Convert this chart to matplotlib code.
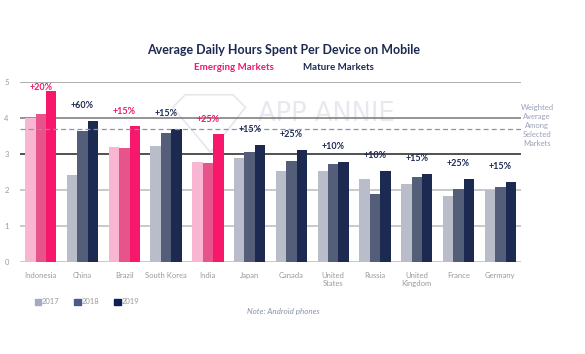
import numpy as np
import matplotlib.pyplot as plt
from matplotlib.patches import Polygon

plt.rcParams['font.family'] = ['Lato', 'DejaVu Sans']

countries = ['Indonesia', 'China', 'Brazil', 'South Korea', 'India', 'Japan',
             'Canada', 'United\nStates', 'Russia', 'United\nKingdom',
             'France', 'Germany']
emerging = [True, False, True, False, True, False,
            False, False, False, False, False, False]
hours_2017 = [4.00, 2.43, 3.21, 3.23, 2.78, 2.89, 2.52, 2.53, 2.30, 2.17, 1.83, 2.00]
hours_2018 = [4.10, 3.65, 3.18, 3.59, 2.76, 3.05, 2.82, 2.72, 1.89, 2.37, 2.02, 2.08]
hours_2019 = [4.75, 3.92, 3.77, 3.70, 3.55, 3.25, 3.11, 2.79, 2.53, 2.45, 2.32, 2.23]
growth = ['+20%', '+60%', '+15%', '+15%', '+25%', '+15%',
          '+25%', '+10%', '+10%', '+15%', '+25%', '+15%']
weighted_avg = 3.7
years = ['2017', '2018', '2019']

pink = ['#F9B6D2', '#E7538B', '#F7186C']
navy = ['#B9BDC9', '#545E78', '#1C2A52']
legend_colors = ['#A3AAC2', '#4A5A8A', '#0E1F55']
PINK_TXT = '#F0186C'
NAVY_TXT = '#1C2A52'

fig = plt.figure(figsize=(5.85, 3.54), dpi=100)
ax = fig.add_axes([0.034, 0.260, 0.857, 0.508])

x = np.arange(len(countries))
w = 0.25
for i, series in enumerate([hours_2017, hours_2018, hours_2019]):
    cols = [pink[i] if e else navy[i] for e in emerging]
    ax.bar(x + (i - 1) * w, series, width=w, color=cols, zorder=3)

# gridlines
for v, c in [(0, '#BBBBBB'), (1, '#BBBBBB'), (2, '#BBBBBB'), (5, '#999999'),
             (4, '#777777'), (3, '#222222')]:
    ax.axhline(v, color=c, lw=1.1, zorder=2)
ax.axhline(weighted_avg, color='#8A93AB', lw=0.9, ls=(0, (4, 2.5)), zorder=4)

for xi, v, g, e in zip(x, hours_2019, growth, emerging):
    ax.text(xi, min(v + 0.42, 4.86), g, ha='center', va='center', fontsize=6.5,
            fontweight='bold', color=PINK_TXT if e else NAVY_TXT, zorder=5)

ax.set_xlim(-0.5, len(countries) - 0.5)
ax.set_ylim(0, 5)
ax.set_yticks(range(6))
ax.set_xticks(x)
ax.set_xticklabels(countries, fontsize=5.5, color='#9A9A9A', linespacing=1.3)
ax.tick_params(axis='y', labelsize=5.5, labelcolor='#9A9A9A', length=0, pad=8)
ax.tick_params(axis='x', length=0, pad=7)
for s in ax.spines.values():
    s.set_visible(False)
ax.set_facecolor('none')

# watermark
ax.text(0.474, 0.82, 'APP ANNIE', transform=ax.transAxes, fontsize=18.5,
        family='DejaVu Sans', color='#E8E9EE', ha='left', va='center', zorder=1)
diamond = Polygon([[0.33, 0.93], [0.425, 0.93], [0.45, 0.86], [0.38, 0.61],
                   [0.305, 0.86]], closed=True, fill=False, ec='#E6E7EC', lw=1.2,
                  transform=ax.transAxes, zorder=1)
ax.add_patch(diamond)

fig.text(0.484, 0.858, 'Average Daily Hours Spent Per Device on Mobile',
         ha='center', va='center', fontsize=9, fontweight='bold', color=NAVY_TXT)
fig.text(0.40, 0.81, 'Emerging Markets', ha='center', va='center',
         fontsize=7, fontweight='bold', color=PINK_TXT)
fig.text(0.578, 0.81, 'Mature Markets', ha='center', va='center',
         fontsize=7, fontweight='bold', color=NAVY_TXT)

fig.text(0.918, 0.645, 'Weighted\nAverage\nAmong\nSelected\nMarkets',
         ha='center', va='center', fontsize=5.5, color='#9AA1B8', linespacing=1.35)

# legend
for i, (yr, c) in enumerate(zip(years, legend_colors)):
    lx = 0.059 + i * 0.068
    fig.patches.append(plt.Rectangle((lx, 0.138), 0.011, 0.018, color=c,
                                     transform=fig.transFigure, figure=fig))
    fig.text(lx + 0.013, 0.147, yr, ha='left', va='center', fontsize=5.5,
             color='#9A9A9A')

fig.text(0.485, 0.12, 'Note: Android phones', ha='center', va='center',
         fontsize=5.8, style='italic', color='#8A93AB')

fig.savefig('out.png', dpi=100)
